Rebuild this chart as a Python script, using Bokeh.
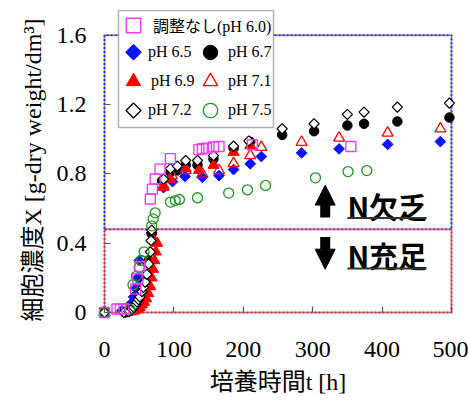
import math
from bokeh.plotting import figure
from bokeh.models import (Range1d, FixedTicker, Legend, LegendItem, BoxAnnotation,
                          Arrow, NormalHead)
from bokeh.core.properties import value
from bokeh.embed import file_html
from bokeh.resources import INLINE

# ---------------- data ----------------
t_60 = [0, 18, 23, 28, 45, 48, 51, 66, 69, 73, 80, 95, 136, 141, 147, 157, 165, 213, 355]
x_60 = [0.0, 0.02, 0.02, 0.02, 0.135, 0.195, 0.265, 0.655, 0.712, 0.77, 0.827, 0.888,
        0.94, 0.945, 0.948, 0.955, 0.958, 0.968, 0.958]

t_65 = [0, 25, 38, 42, 45, 48, 50, 68, 85, 98, 116, 141, 165, 186, 210, 226, 284, 338, 408, 484]
x_65 = [0.0, 0.01, 0.05, 0.09, 0.14, 0.2, 0.3, 0.46, 0.72, 0.755, 0.785, 0.78, 0.79,
        0.825, 0.858, 0.9, 0.921, 0.944, 0.97, 0.986]

t_67 = [0, 30, 38, 44, 50, 55, 60, 64, 68, 83, 95, 105, 117, 134, 157, 186, 210,
        256, 302, 350, 374, 422, 497]
x_67 = [0.005, 0.0, 0.01, 0.03, 0.07, 0.12, 0.2, 0.3, 0.455, 0.76, 0.81, 0.82, 0.85,
        0.85, 0.885, 0.948, 0.985, 1.025, 1.046, 1.079, 1.089, 1.102, 1.125]

t_69 = [0, 32, 38, 44, 48, 51, 54, 57, 60, 63, 66, 68, 70, 72, 74, 76, 85, 95, 117,
        136, 157, 186, 210]
x_69 = [0.0, 0.0, 0.005, 0.01, 0.02, 0.03, 0.045, 0.06, 0.08, 0.11, 0.15, 0.2, 0.25,
        0.3, 0.35, 0.4, 0.723, 0.77, 0.83, 0.82, 0.85, 0.925, 0.964]

t_71 = [0, 40, 50, 58, 64, 70, 85, 97, 117, 141, 165, 186, 210, 226, 284, 338, 408, 484]
x_71 = [0.0, 0.01, 0.06, 0.18, 0.3, 0.42, 0.73, 0.79, 0.82, 0.8, 0.82, 0.86, 0.906,
        0.954, 0.983, 1.007, 1.036, 1.06]

t_72 = [0, 28, 35, 40, 42, 45, 47, 49, 51, 54, 56, 58.5, 61, 63.5, 66, 67, 68, 85, 95,
        105, 117, 134, 157, 186, 208, 256, 302, 350, 374, 422, 497]
x_72 = [0.0, 0.0, 0.005, 0.02, 0.03, 0.045, 0.06, 0.075, 0.09, 0.12, 0.145, 0.175, 0.22,
        0.28, 0.35, 0.415, 0.475, 0.77, 0.83, 0.845, 0.877, 0.877, 0.905, 0.96, 0.99,
        1.06, 1.089, 1.143, 1.156, 1.185, 1.208]

t_75 = [0, 36, 41, 46, 50, 53, 57, 68, 70, 73, 95, 102, 108, 134, 179, 206, 232, 304, 351, 378]
x_75 = [0.0, 0.02, 0.16, 0.21, 0.26, 0.3, 0.35, 0.5, 0.54, 0.575, 0.637, 0.646, 0.652,
        0.662, 0.689, 0.708, 0.733, 0.777, 0.813, 0.819]

x_ticks = [0, 100, 200, 300, 400, 500]
y_ticks = [0, 0.4, 0.8, 1.2, 1.6]
N_THRESHOLD = 0.48
X_MAX = 500
Y_MAX = 1.6

# ---------------- layout (canvas pixels) ----------------
W, H = 468, 404
FRAME_LEFT, FRAME_RIGHT, FRAME_BOTTOM = 104, 451, 312
Y_MAX_PX = 34.7          # where Y_MAX sits
FRAME_TOP = 9            # frame extends above Y_MAX so the legend box is not clipped
PX_PER_Y = (FRAME_BOTTOM - Y_MAX_PX) / Y_MAX
Y_TOP = (FRAME_BOTTOM - FRAME_TOP) / PX_PER_Y

SERIF = "'Liberation Serif'"
SERIF_CJK = "'Liberation Serif', 'Noto Sans CJK JP'"

p = figure(width=W, height=H, output_backend="svg", toolbar_location=None,
           x_range=Range1d(0, X_MAX), y_range=Range1d(0, Y_TOP),
           min_border_left=FRAME_LEFT, min_border_right=W - FRAME_RIGHT,
           min_border_top=FRAME_TOP, min_border_bottom=H - FRAME_BOTTOM)
p.grid.visible = False
p.background_fill_color = "white"
p.border_fill_color = "white"
p.outline_line_color = None

for ax in (p.xaxis[0], p.yaxis[0]):
    ax.axis_line_color = None
    ax.major_tick_in = 6
    ax.major_tick_out = 0
    ax.major_tick_line_color = "#555555"
    ax.major_tick_line_width = 1.2
    ax.minor_tick_line_color = None
    ax.major_label_text_font = SERIF
    ax.major_label_text_font_size = "24px"
    ax.major_label_text_color = "black"
    ax.axis_label_text_font = SERIF_CJK
    ax.axis_label_text_font_size = "24px"
    ax.axis_label_text_font_style = "normal"
    ax.axis_label_text_color = "black"

p.xaxis.ticker = FixedTicker(ticks=x_ticks)
p.yaxis.ticker = FixedTicker(ticks=y_ticks)
p.xaxis.major_label_standoff = 29
p.yaxis.major_label_standoff = 18
p.xaxis.axis_label = "培養時間t [h]"
p.yaxis.axis_label = "細胞濃度X [g-dry weight/dm³]\u00a0\u00a0\u00a0"
p.xaxis.axis_label_standoff = 9
p.yaxis.axis_label_standoff = 8

# ---------------- frame and dotted region frames ----------------
p.multi_line(xs=[[0, X_MAX, X_MAX, 0, 0]], ys=[[0, 0, Y_MAX, Y_MAX, 0]],
             line_color="#8a8a8a", line_width=1.5, level="guide")
p.multi_line(xs=[[0, X_MAX, X_MAX, 0, 0]], ys=[[N_THRESHOLD, N_THRESHOLD, Y_MAX, Y_MAX, N_THRESHOLD]],
             line_color="#2f3cff", line_width=2, line_dash="2 2", level="guide")
p.multi_line(xs=[[0, X_MAX, X_MAX, 0, 0]], ys=[[0, 0, N_THRESHOLD, N_THRESHOLD, 0]],
             line_color="#ff2a2a", line_width=2, line_dash="2 2", line_dash_offset=2,
             level="guide")

# ---------------- series ----------------
BLUE, RED, PINK, GREEN = "#0a14ff", "#ff0000", "#f03cf0", "#1e961e"
DIAMOND = dict(marker="square", angle=math.pi / 4)
r65 = p.scatter(t_65, x_65, size=7.6, fill_color=BLUE, line_color=BLUE, line_width=1,
                level="guide", **DIAMOND)
r67 = p.scatter(t_67, x_67, marker="circle", size=9.5,
                fill_color="black", line_color="black", line_width=1, level="guide")
r69 = p.scatter(t_69, x_69, marker="triangle", size=11,
                fill_color=RED, line_color=RED, line_width=1, level="guide")
r71 = p.scatter(t_71, x_71, marker="triangle", size=11,
                fill_color="white", fill_alpha=0, line_color=RED, line_width=1.3, level="guide")
r72 = p.scatter(t_72, x_72, size=7.2, fill_color="white", line_color="black",
                line_width=1.2, level="guide", **DIAMOND)
r75 = p.scatter(t_75, x_75, marker="circle", size=10,
                fill_color="white", fill_alpha=0, line_color=GREEN, line_width=1.3, level="guide")
r60 = p.scatter(t_60, x_60, marker="square", size=10,
                fill_color="white", fill_alpha=0, line_color=PINK, line_width=1.4, level="guide")

# ---------------- N annotations ----------------
ARROW_X = 318
p.add_layout(Arrow(x_start=ARROW_X, y_start=0.548, x_end=ARROW_X, y_end=0.735,
                   line_width=10, line_color="black",
                   end=NormalHead(size=20, fill_color="black", line_color="black")))
p.add_layout(Arrow(x_start=ARROW_X, y_start=0.435, x_end=ARROW_X, y_end=0.25,
                   line_width=10, line_color="black",
                   end=NormalHead(size=20, fill_color="black", line_color="black")))
p.text(x=[350, 350], y=[0.617, 0.329], text=["N欠乏", "N充足"],
       text_font=value("Noto Sans CJK JP"), text_font_style="bold",
       text_font_size="29px", text_baseline="middle", text_align="left",
       text_color="black")
p.segment(x0=[350, 350], y0=[0.545, 0.254], x1=[464, 464], y1=[0.545, 0.254],
          line_color="#333333", line_width=2)

# ---------------- legend ----------------
def sx2d(sx):
    return (sx - FRAME_LEFT) / (FRAME_RIGHT - FRAME_LEFT) * X_MAX

def sy2d(sy):
    return (FRAME_BOTTOM - sy) / PX_PER_Y

p.add_layout(BoxAnnotation(left=sx2d(118), right=sx2d(273), top=sy2d(10), bottom=sy2d(127),
                           fill_color="white", fill_alpha=1, line_color="black",
                           line_width=1.5))

def place_legend(renderer, label, cx, cy, glyph, standoff):
    leg = Legend(items=[LegendItem(label=label, renderers=[renderer])],
                 location=(cx - glyph / 2 - FRAME_LEFT, FRAME_BOTTOM - (cy + glyph / 2)),
                 glyph_width=glyph, glyph_height=glyph, label_height=glyph,
                 label_standoff=standoff, padding=0, margin=0, spacing=0,
                 border_line_alpha=0, background_fill_alpha=0,
                 label_text_font=SERIF_CJK, label_text_font_size="16px",
                 label_text_color="black")
    p.add_layout(leg)

COL1, COL2 = 133, 210
ROW0, ROW1, ROW2, ROW3 = 25, 51.7, 81, 110

# diamond keys: the legend cannot rotate markers, so draw the keys on top of the box
blank = p.scatter(x=[], y=[], marker="square", fill_alpha=0, line_alpha=0)
p.scatter(x=[sx2d(COL1), sx2d(COL1)], y=[sy2d(ROW1), sy2d(ROW3)], size=10.6,
          fill_color=[BLUE, "white"], line_color=[BLUE, "black"], line_width=1.3,
          level="overlay", **DIAMOND)

place_legend(r60, "調整なし(pH 6.0)", COL1, ROW0, 36, 2)
place_legend(blank, "pH 6.5", COL1, ROW1, 26, 2)
place_legend(r67, "pH 6.7", COL2, ROW1, 36, -3)
place_legend(r69, "pH 6.9", COL1, ROW2, 36, -3)
place_legend(r71, "pH 7.1", COL2, ROW2, 36, -3)
place_legend(blank, "pH 7.2", COL1, ROW3, 26, 2)
place_legend(r75, "pH 7.5", COL2, ROW3, 36, -3)

open("out.html", "w").write(file_html(p, INLINE))
